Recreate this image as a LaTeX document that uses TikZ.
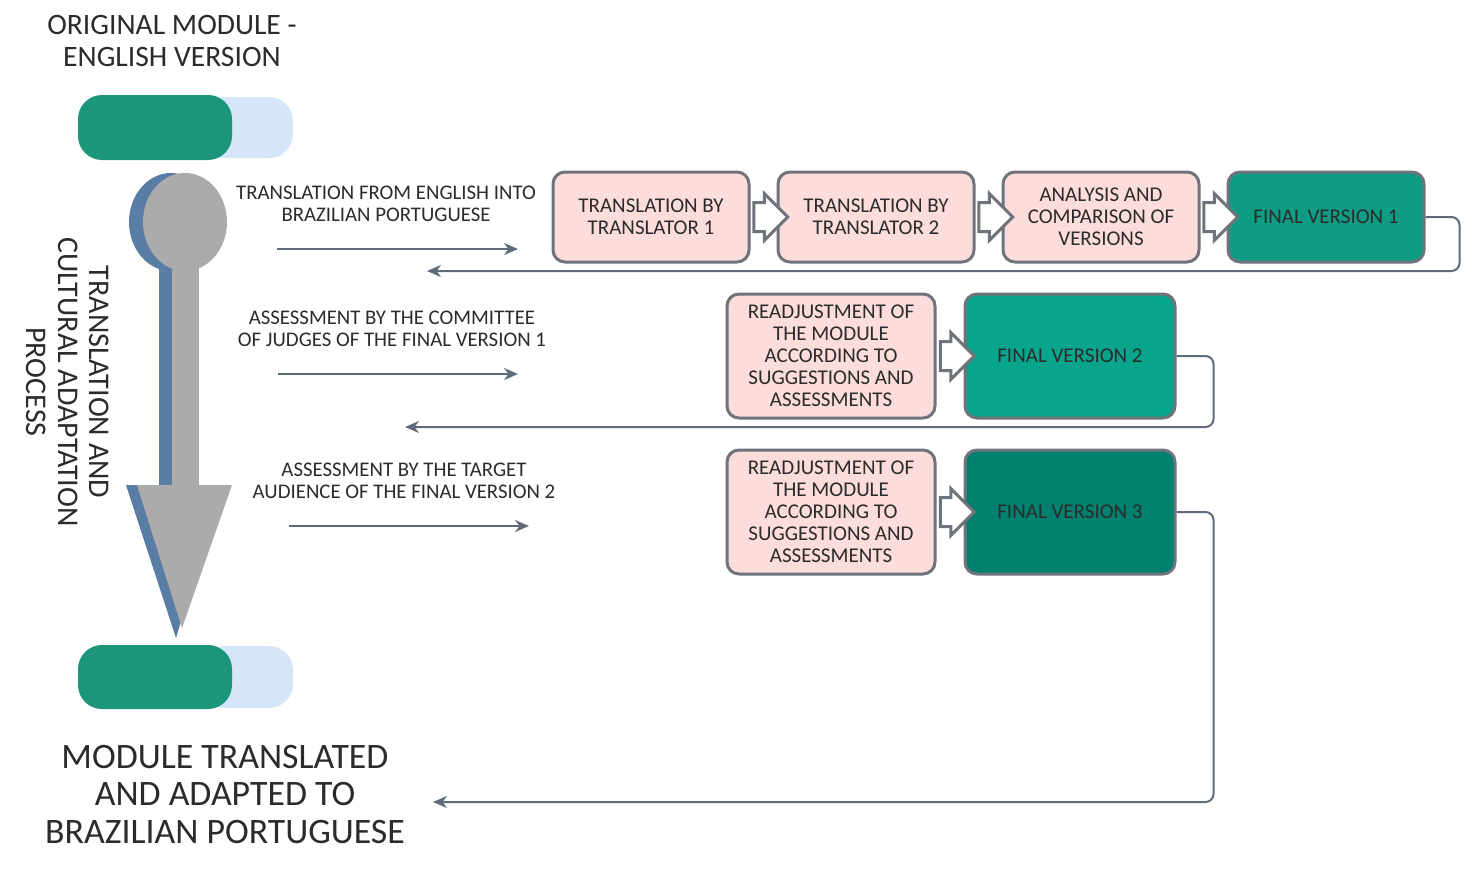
\documentclass[tikz,border=0pt]{standalone}
\usepackage{fontspec}
\setmainfont{Carlito}
\usetikzlibrary{arrows.meta,shapes.arrows,calc}
\definecolor{pinkbox}{HTML}{FDDCDC}
\definecolor{edgegray}{HTML}{6E737C}
\definecolor{linegray}{HTML}{5F6B7A}
\definecolor{tealone}{HTML}{0F9C84}
\definecolor{tealtwo}{HTML}{08A48C}
\definecolor{tealthree}{HTML}{00806F}
\definecolor{pillgreen}{HTML}{1B967A}
\definecolor{pillblue}{HTML}{D5E5FA}
\definecolor{spoongray}{HTML}{ABABAB}
\definecolor{spoonblue}{HTML}{5A7DA6}
\definecolor{inkdark}{HTML}{2B2B2B}
\tikzset{
  stepbox/.style={draw=edgegray, line width=1.5pt, rounded corners=6pt, fill=pinkbox,
    align=center, text=inkdark, inner sep=0pt, font=\fontsize{10.5}{11}\selectfont},
  finalbox/.style={stepbox, fill=#1},
  flowarrow/.style={single arrow, draw=edgegray, fill=white, line width=1.5pt, inner sep=0pt,
    minimum height=17pt, single arrow head extend=4.5pt},
  conn/.style={draw=linegray, line width=1pt, rounded corners=4pt, -{Stealth[length=7pt,width=6pt]}},
  lab/.style={align=center, text=inkdark, font=\fontsize{10.4}{11}\selectfont}
}
\begin{document}
\begin{tikzpicture}[x=0.5pt, y=-0.5pt]
\useasboundingbox (0,0) rectangle (1477,875);
%start and end
\fill[pillblue, rounded corners=12pt] (200,97) rectangle (293,158);
\fill[pillgreen, rounded corners=12pt] (78,95) rectangle (232,160);
\fill[pillblue, rounded corners=12pt] (200,646) rectangle (293,708);
\fill[pillgreen, rounded corners=12pt] (78,645) rectangle (232,709);
\node[align=center, text=inkdark, font=\fontsize{14.8}{16}\selectfont] (top) at (172,41) {ORIGINAL MODULE -\\ENGLISH VERSION};
\node[align=center, text=inkdark, font=\fontsize{17.9}{18.75}\selectfont] (bottom) at (225,794) {MODULE TRANSLATED\\AND ADAPTED TO\\BRAZILIAN PORTUGUESE};
%big arrow
\fill[spoonblue] (171,222) ellipse [x radius=42, y radius=49];
\fill[spoonblue] (159,262) rectangle (185,490);
\fill[spoonblue] (126,485) -- (222,485) -- (176,638) -- cycle;
\fill[spoongray] (185,222) ellipse [x radius=42, y radius=49];
\fill[spoongray] (172,262) rectangle (199,486);
\fill[spoongray] (137,485) -- (232,485) -- (182,628) -- cycle;
\node[rotate=-90, align=center, text=inkdark, font=\fontsize{15}{15.75}\selectfont] (process) at (68,382) {TRANSLATION AND\\CULTURAL ADAPTATION\\PROCESS};
%row 1
\node[lab] (lab1) at (386,204) {TRANSLATION FROM ENGLISH INTO\\BRAZILIAN PORTUGUESE};
\coordinate (a1s) at (277,249);
\coordinate (a1e) at (518,249);
\draw[conn] (a1s) -- (a1e);
\node[stepbox, minimum width=98pt, minimum height=45pt] (t1) at (651,217) {TRANSLATION BY\\TRANSLATOR 1};
\node[stepbox, minimum width=98pt, minimum height=45pt] (t2) at (876,217) {TRANSLATION BY\\TRANSLATOR 2};
\node[stepbox, minimum width=98pt, minimum height=45pt] (cmp) at (1101,217) {ANALYSIS AND\\COMPARISON OF\\VERSIONS};
\node[finalbox=tealone, minimum width=98pt, minimum height=45pt] (fv1) at (1326,217) {FINAL VERSION 1};
\node[flowarrow] (f12) at ($(t1.east)!0.5!(t2.west)$) {\rule{0pt}{13pt}};
\node[flowarrow] (f23) at ($(t2.east)!0.5!(cmp.west)$) {\rule{0pt}{13pt}};
\node[flowarrow] (f34) at ($(cmp.east)!0.5!(fv1.west)$) {\rule{0pt}{13pt}};
\coordinate (r1) at (427,271);
\draw[conn] (fv1.east) -- ++(34,0) |- (r1);
%row 2
\node[lab] (lab2) at (392,329) {ASSESSMENT BY THE COMMITTEE\\OF JUDGES OF THE FINAL VERSION 1};
\coordinate (a2s) at (278,374);
\coordinate (a2e) at (518,374);
\draw[conn] (a2s) -- (a2e);
\node[stepbox, minimum width=104pt, minimum height=62pt] (adj2) at (831,356) {READJUSTMENT OF\\THE MODULE\\ACCORDING TO\\SUGGESTIONS AND\\ASSESSMENTS};
\node[finalbox=tealtwo, minimum width=105pt, minimum height=62pt] (fv2) at (1070,356) {FINAL VERSION 2};
\node[flowarrow] (f2) at ($(adj2.east)!0.5!(fv2.west)$) {\rule{0pt}{13pt}};
\coordinate (r2) at (405,427);
\draw[conn] (fv2.east) -- ++(37,0) |- (r2);
%row 3
\node[lab] (lab3) at (404,481) {ASSESSMENT BY THE TARGET\\AUDIENCE OF THE FINAL VERSION 2};
\coordinate (a3s) at (289,526);
\coordinate (a3e) at (529,526);
\draw[conn] (a3s) -- (a3e);
\node[stepbox, minimum width=104pt, minimum height=62pt] (adj3) at (831,512) {READJUSTMENT OF\\THE MODULE\\ACCORDING TO\\SUGGESTIONS AND\\ASSESSMENTS};
\node[finalbox=tealthree, minimum width=105pt, minimum height=62pt] (fv3) at (1070,512) {FINAL VERSION 3};
\node[flowarrow] (f3) at ($(adj3.east)!0.5!(fv3.west)$) {\rule{0pt}{13pt}};
\coordinate (r3) at (433,802);
\draw[conn] (fv3.east) -- ++(37,0) |- (r3);
\end{tikzpicture}
\end{document}
